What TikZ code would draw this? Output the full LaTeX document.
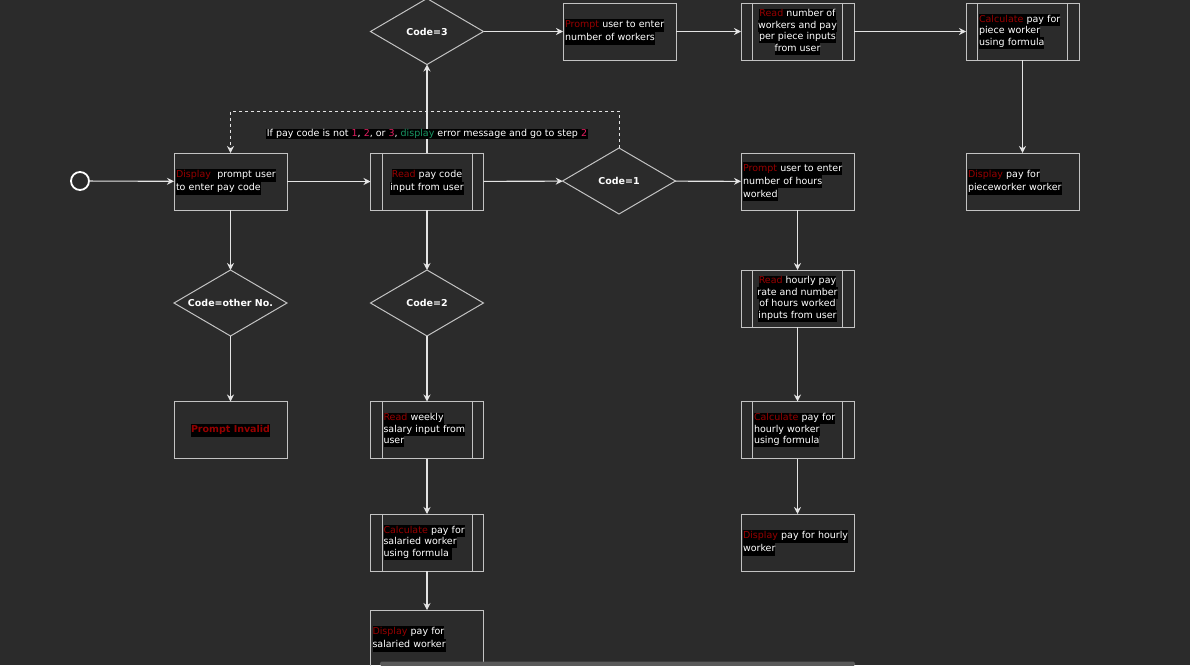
\documentclass[tikz,border=0pt]{standalone}
\usepackage{fontspec}
\setmainfont{DejaVu Sans}
\usetikzlibrary{shapes.geometric,arrows.meta}

\definecolor{bg}{RGB}{43,43,43}
\definecolor{edge}{RGB}{195,195,195}
\definecolor{wire}{RGB}{228,228,228}
\definecolor{kwred}{RGB}{150,0,0}
\definecolor{numred}{RGB}{225,30,95}
\definecolor{kwgreen}{RGB}{25,150,100}
\definecolor{bar}{RGB}{90,90,90}

\setlength\fboxsep{0pt}
% one highlighted line of text
\newcommand\tline[1]{\colorbox{black}{\strut #1}}
\newcommand\kwd[1]{\textcolor{kwred}{#1}}
\newcommand\numc[1]{\textcolor{numred}{#1}}

\tikzset{
  box/.style={draw=edge, line width=1pt, rectangle, minimum width=113, minimum height=57,
    inner sep=0pt, outer sep=0pt, text=white, font=\fontsize{9.5}{13}\selectfont},
  lefttext/.style={align=left, inner xsep=2pt, text width=109pt},
  proclefttext/.style={align=left, inner xsep=13pt, text width=87pt},
  tight/.style={font=\fontsize{9.5}{11.5}\selectfont},
  proc/.style={path picture={
    \draw[edge, line width=1pt]
      ([xshift=11.5pt]path picture bounding box.north west) -- ([xshift=11.5pt]path picture bounding box.south west)
      ([xshift=-11.5pt]path picture bounding box.north east) -- ([xshift=-11.5pt]path picture bounding box.south east);}},
  dia/.style={draw=edge, line width=1pt, diamond, aspect=1.71, minimum width=113, minimum height=66,
    inner sep=0pt, outer sep=0pt, text=white, font=\bfseries\fontsize{9.5}{12}\selectfont},
  conn/.style={draw=wire, line width=1.1pt, -{Stealth[length=7pt,width=7pt]}},
  loopline/.style={draw=wire, line width=1pt, dash pattern=on 3pt off 3pt, -{Stealth[length=7pt,width=7pt]}},
}

\begin{document}
\begin{tikzpicture}[x=1pt, y=-1pt]
\useasboundingbox (0,0) rectangle (1190,665);
\fill[bg] (0,0) rectangle (1190,665);

% start
\node[circle, draw=white, line width=1.8pt, minimum size=18pt, inner sep=0pt, outer sep=0pt] (start) at (80,181) {};

% main row
\node[box, lefttext] (disp) at (230.5,181.5)
  {\tline{\kwd{Display}\ \ prompt user}\\\tline{to enter pay code}};
\node[box, proc, align=center] (readcode) at (427,181.5)
  {\tline{\kwd{Read} pay code}\\\tline{input from user}};
\node[dia] (code1) at (619,181) {Code=1};
\node[box, lefttext] (phours) at (797.5,181.5)
  {\tline{\kwd{Prompt} user to enter}\\\tline{number of hours}\\\tline{worked}};

% hourly column
\node[box, proc, tight, align=center] (rhours) at (797.5,298.5)
  {\tline{\kwd{Read} hourly pay}\\\tline{rate and number}\\\tline{of hours worked}\\\tline{inputs from user}};
\node[box, proc, tight, proclefttext] (chours) at (797.5,430)
  {\tline{\kwd{Calculate} pay for}\\\tline{hourly worker}\\\tline{using formula}};
\node[box, lefttext] (dhours) at (797.5,542.5)
  {\tline{\kwd{Display} pay for hourly}\\\tline{worker}};

% piece worker row
\node[dia] (code3) at (427,31.5) {Code=3};
\node[box, lefttext] (pworkers) at (619.5,31.5)
  {\tline{\kwd{Prompt} user to enter}\\\tline{number of workers}};
\node[box, proc, tight, align=center] (rworkers) at (797.5,31.5)
  {\tline{\kwd{Read} number of}\\\tline{workers and pay}\\\tline{per piece inputs}\\\tline{from user}};
\node[box, proc, tight, proclefttext] (cpiece) at (1022.5,31.5)
  {\tline{\kwd{Calculate} pay for}\\\tline{piece worker}\\\tline{using formula}};
\node[box, lefttext] (dpiece) at (1022.5,181.5)
  {\tline{\kwd{Display} pay for}\\\tline{pieceworker worker}};

% other code column
\node[dia] (codeother) at (230.5,303) {Code=other No.};
\node[box, align=center] (invalid) at (230.5,430)
  {\tline{\textbf{\kwd{Prompt Invalid}}}};

% salaried column
\node[dia] (code2) at (427,303) {Code=2};
\node[box, proc, tight, proclefttext] (rweekly) at (427,430)
  {\tline{\kwd{Read} weekly}\\\tline{salary input from}\\\tline{user}};
\node[box, proc, tight, proclefttext] (csalary) at (427,542.5)
  {\tline{\kwd{Calculate} pay for}\\\tline{salaried worker}\\\tline{using formula\ }};
\node[box, lefttext] (dsalary) at (427,638.5)
  {\tline{\kwd{Display} pay for}\\\tline{salaried worker}};

% connectors
\draw[conn] (start) -- (disp);
\draw[conn] (disp) -- (readcode);
\draw[conn] (readcode) -- (code1);
\draw[conn] (code1) -- (phours);
\draw[conn] (phours) -- (rhours);
\draw[conn] (rhours) -- (chours);
\draw[conn] (chours) -- (dhours);
\draw[conn] (readcode) -- (code3);
\draw[conn] (code3) -- (pworkers);
\draw[conn] (pworkers) -- (rworkers);
\draw[conn] (rworkers) -- (cpiece);
\draw[conn] (cpiece) -- (dpiece);
\draw[conn] (disp) -- (codeother);
\draw[conn] (codeother) -- (invalid);
\draw[conn] (readcode) -- (code2);
\draw[conn] (code2) -- (rweekly);
\draw[conn] (rweekly) -- (csalary);
\draw[conn] (csalary) -- (dsalary);

% error loop back to step 2
\draw[loopline] (code1.north) -- ++(0,-37) -| (disp.north);
\node[text=white, fill=black, inner sep=0.5pt, font=\fontsize{9.5}{12}\selectfont] (note) at (427,134)
  {If pay code is not \numc{1}, \numc{2}, or \numc{3}, \textcolor{kwgreen}{display} error message and go to step \numc{2}};

% horizontal scroll bar
\fill[bar, rounded corners=1.5pt] (380,661.5) rectangle (855,666);
\end{tikzpicture}
\end{document}
